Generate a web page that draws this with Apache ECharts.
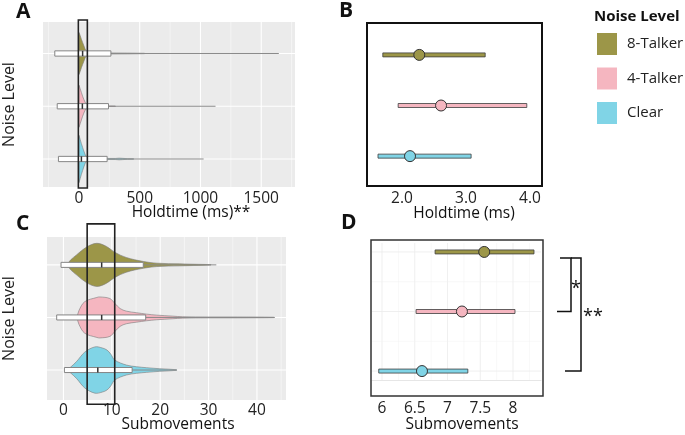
<!DOCTYPE html>
<html><head><meta charset="utf-8">
<script src="https://cdn.jsdelivr.net/npm/echarts@6/dist/echarts.min.js"></script>
<style>html,body{margin:0;padding:0;background:#fff}#c{width:685px;height:435px}</style>
</head><body><div id="c"></div>
<script>
// ---------- DATA ----------
const categories = ['Clear', '4-Talker', '8-Talker'];   // y positions 1, 2, 3
const legendOrder = ['8-Talker', '4-Talker', 'Clear'];

// Panel A: Holdtime (ms) violins (value, half-width in category units)
const holdViolinClearV = [0, 10, 20, 30, 40, 50, 60, 70, 150, 300, 330, 360, 400, 450];
const holdViolinClearW = [0.45, 0.37, 0.29, 0.22, 0.15, 0.09, 0.04, 0.015, 0.01, 0.01, 0.016, 0.012, 0.006, 0.004];
const holdViolin4V = [0, 10, 20, 30, 40, 50, 60, 70, 150, 300];
const holdViolin4W = [0.40, 0.33, 0.26, 0.19, 0.13, 0.08, 0.035, 0.012, 0.008, 0.004];
const holdViolin8V = [0, 10, 20, 30, 40, 50, 60, 70, 120, 250, 400, 540];
const holdViolin8W = [0.40, 0.34, 0.27, 0.21, 0.15, 0.09, 0.04, 0.015, 0.012, 0.01, 0.008, 0.004];
// Panel A boxplots (Clear, 4-Talker, 8-Talker)
const holdQ1 = [-169, -179, -199];
const holdMedian = [20, 28, 30];
const holdQ3 = [232, 243, 263];
const holdWhiskerHi = [1026, 1124, 1645];
const holdFocus = [-5, 69];
const holdTicks = [0, 500, 1000, 1500];
const holdGridMajor = [0, 500, 1000, 1500];
const holdGridMinor = [-250, 250, 750, 1250, 1750];

// Panel C: Submovements violins
const subViolinClearV = [0.7, 1.5, 2.7, 4.4, 6.5, 8.0, 9.0, 9.8, 10.6, 13, 15.1, 17.2, 19.9, 23.4];
const subViolinClearW = [0, 0.057, 0.16, 0.34, 0.44, 0.42, 0.38, 0.30, 0.19, 0.095, 0.063, 0.044, 0.025, 0.006];
const subViolin4V = [2.8, 3.2, 4.4, 6.9, 7.5, 9.6, 10.6, 11.7, 13, 15.1, 17.2, 19.3, 22.6, 24.6, 30, 36, 43.5];
const subViolin4W = [0, 0.13, 0.30, 0.38, 0.39, 0.36, 0.27, 0.17, 0.12, 0.09, 0.063, 0.044, 0.025, 0.013, 0.008, 0.008, 0.003];
const subViolin8V = [0.7, 1.5, 2.7, 4.8, 6.9, 8.9, 10.6, 13, 16.5, 19.3, 24, 28, 30.5];
const subViolin8W = [0, 0.095, 0.19, 0.34, 0.41, 0.35, 0.24, 0.14, 0.065, 0.032, 0.019, 0.01, 0.004];
const subQ1 = [0.2, -1.4, -0.5];
const subMedian = [7.1, 7.9, 7.9];
const subQ3 = [14.2, 17.0, 16.5];
const subWhiskerHi = [23.4, 43.7, 31.6];
const subFocus = [4.9, 10.6];
const subTicks = [0, 10, 20, 30, 40];
const subGridMajor = [0, 10, 20, 30, 40];
const subGridMinor = [5, 15, 25, 35, 45];

// Panel B: Holdtime estimates (low, estimate, high)
const holdEstLow = [1.625, 1.94, 1.70];
const holdEstMid = [2.125, 2.61, 2.27];
const holdEstHigh = [3.08, 3.95, 3.30];
const holdEstTicks = [2, 3, 4];

// Panel D: Submovement estimates
const subEstLow = [5.95, 6.52, 6.81];
const subEstMid = [6.61, 7.22, 7.56];
const subEstHigh = [7.31, 8.03, 8.32];
const subEstTicks = [6, 6.5, 7, 7.5, 8];
const subEstGridMajorX = [6, 6.5, 7, 7.5, 8];
const subEstGridMinorX = [6.25, 6.75, 7.25, 7.75, 8.25];
const subEstGridMajorY = [1, 2, 3];
const subEstGridMinorY = [1.5, 2.5];

// ---------- STYLE ----------
const FONT = '"Open Sans", "Noto Sans", sans-serif';
const colorOf = {'8-Talker': '#9c9648', '4-Talker': '#f5b6c0', 'Clear': '#80d4e6'};
const TXT = '#222';

const chart = echarts.init(document.getElementById('c'));

function gridLines(gi, values, dir, width, color, z) {
  return {
    type: 'custom', xAxisIndex: gi, yAxisIndex: gi, silent: true, z: z || 1,
    data: values.map(v => [v, v]),
    renderItem(params, api) {
      const cs = params.coordSys;
      const v = api.value(0);
      if (dir === 'x') {
        const x = api.coord([v, 2])[0];
        return {type: 'line', shape: {x1: x, y1: cs.y, x2: x, y2: cs.y + cs.height}, style: {stroke: color, lineWidth: width}};
      }
      const y = api.coord([0, v])[1];
      return {type: 'line', shape: {x1: cs.x, y1: y, x2: cs.x + cs.width, y2: y}, style: {stroke: color, lineWidth: width}};
    }
  };
}

function violins(gi, profiles, smooth) {
  return {
    type: 'custom', xAxisIndex: gi, yAxisIndex: gi, silent: true, z: 2,
    data: profiles.map(p => [p.v[0], p.y]),
    renderItem(params, api) {
      const p = profiles[params.dataIndex];
      const top = p.v.map((v, k) => api.coord([v, p.y + p.w[k]]));
      const bot = p.v.map((v, k) => api.coord([v, p.y - p.w[k]])).reverse();
      return {type: 'polygon', shape: {points: top.concat(bot), smooth: smooth},
        style: {fill: p.color, stroke: '#7a7a7a', lineWidth: 0.6}};
    }
  };
}

function boxes(gi, q1, med, q3, hi, half) {
  return {
    type: 'custom', xAxisIndex: gi, yAxisIndex: gi, silent: true, z: 3,
    data: categories.map((c, i) => [q1[i], i + 1, med[i], q3[i], hi[i]]),
    renderItem(params, api) {
      const y = api.value(1);
      const a = api.coord([api.value(0), y + half]);
      const b = api.coord([api.value(3), y - half]);
      const m1 = api.coord([api.value(2), y + half]);
      const m2 = api.coord([api.value(2), y - half]);
      const w1 = api.coord([api.value(3), y]);
      const w2 = api.coord([api.value(4), y]);
      return {type: 'group', children: [
        {type: 'line', shape: {x1: w1[0], y1: w1[1], x2: w2[0], y2: w2[1]}, style: {stroke: '#8a8a8a', lineWidth: 1}},
        {type: 'rect', shape: {x: a[0], y: a[1], width: b[0] - a[0], height: b[1] - a[1]}, style: {fill: '#fff', stroke: '#858585', lineWidth: 1}},
        {type: 'line', shape: {x1: m1[0], y1: m1[1], x2: m2[0], y2: m2[1]}, style: {stroke: '#333', lineWidth: 1.5}}
      ]};
    }
  };
}

function focusRect(gi, range, yLo, yHi) {
  return {
    type: 'custom', xAxisIndex: gi, yAxisIndex: gi, silent: true, z: 5, clip: false,
    data: [[range[0], range[1]]],
    renderItem(params, api) {
      const a = api.coord([api.value(0), yHi]);
      const b = api.coord([api.value(1), yLo]);
      return {type: 'rect', shape: {x: a[0], y: a[1], width: b[0] - a[0], height: b[1] - a[1]},
        style: {fill: 'none', stroke: '#222', lineWidth: 1.6}};
    }
  };
}

function estimate(gi, i, lo, mid, hi) {
  const name = categories[i];
  return {
    type: 'custom', name: name, xAxisIndex: gi, yAxisIndex: gi, silent: true, z: 4,
    itemStyle: {color: colorOf[name]},
    data: [[mid[i], i + 1, lo[i], hi[i]]],
    renderItem(params, api) {
      const y = api.value(1);
      const p = api.coord([api.value(0), y]);
      const l = api.coord([api.value(2), y]);
      const h = api.coord([api.value(3), y]);
      return {type: 'group', children: [
        {type: 'rect', shape: {x: l[0], y: l[1] - 2, width: h[0] - l[0], height: 4},
          style: {fill: colorOf[name], stroke: '#3d3d3d', lineWidth: 0.8}},
        {type: 'circle', shape: {cx: p[0], cy: p[1], r: 5.5},
          style: {fill: colorOf[name], stroke: '#333', lineWidth: 1}}
      ]};
    }
  };
}

function prof(v, w, i) { return {v: v, w: w, y: i + 1, color: colorOf[categories[i]]}; }

const axisLabelBase = {fontFamily: FONT, fontSize: 15.5, color: TXT, formatter: v => String(v)};

const option = {
  animation: false,
  title: {text: 'Noise Level', left: 589, top: 4,
    textStyle: {fontFamily: FONT, fontSize: 15, fontWeight: 'bold', color: '#111'}},
  legend: {
    orient: 'vertical', left: 592, top: 28, itemWidth: 20, itemHeight: 22, itemGap: 12.5,
    selectedMode: false, icon: 'rect',
    data: legendOrder,
    textStyle: {fontFamily: FONT, fontSize: 15, color: TXT, padding: [0, 0, 0, 5]}
  },
  grid: [
    {left: 43, top: 22, width: 252, height: 165, show: true, backgroundColor: '#ebebeb', borderWidth: 0},
    {left: 47, top: 237, width: 239, height: 163, show: true, backgroundColor: '#ebebeb', borderWidth: 0},
    {left: 367, top: 23, width: 175, height: 163, show: true, backgroundColor: '#fff', borderColor: '#111', borderWidth: 2},
    {left: 372, top: 243, width: 169, height: 137, show: false}
  ],
  xAxis: [
    {gridIndex: 0, type: 'value', min: -296, max: 1778, splitLine: {show: false}, axisLine: {show: false}, axisTick: {show: false},
      axisLabel: Object.assign({}, axisLabelBase, {customValues: holdTicks, margin: 4})},
    {gridIndex: 1, type: 'value', min: -3.4, max: 46, splitLine: {show: false}, axisLine: {show: false}, axisTick: {show: false},
      axisLabel: Object.assign({}, axisLabelBase, {customValues: subTicks, margin: 3})},
    {gridIndex: 2, type: 'value', min: 1.453, max: 4.1875, splitLine: {show: false}, axisLine: {show: false}, axisTick: {show: false},
      axisLabel: Object.assign({}, axisLabelBase, {customValues: holdEstTicks, margin: 5, formatter: v => v.toFixed(1)})},
    {gridIndex: 3, type: 'value', min: 5.847, max: 8.427, splitLine: {show: false},
      axisLine: {show: true, lineStyle: {color: '#e6e6e6', width: 1}}, axisTick: {show: false},
      axisLabel: Object.assign({}, axisLabelBase, {customValues: subEstTicks, margin: 21})}
  ],
  yAxis: [
    {gridIndex: 0, type: 'value', min: 0.469, max: 3.597, splitLine: {show: false}, axisLine: {show: false}, axisTick: {show: false}, axisLabel: {show: false},
      name: 'Noise Level', nameLocation: 'middle', nameGap: 26, nameTextStyle: {fontFamily: FONT, fontSize: 16, color: TXT}},
    {gridIndex: 1, type: 'value', min: 0.43, max: 3.53, splitLine: {show: false}, axisLine: {show: false}, axisTick: {show: false}, axisLabel: {show: false},
      name: 'Noise Level', nameLocation: 'middle', nameGap: 30, nameTextStyle: {fontFamily: FONT, fontSize: 16, color: TXT}},
    {gridIndex: 2, type: 'value', min: 0.41, max: 3.63, splitLine: {show: false}, axisLine: {show: false}, axisTick: {show: false}, axisLabel: {show: false}},
    {gridIndex: 3, type: 'value', min: 0.85, max: 3.15, splitLine: {show: false}, axisLine: {show: false}, axisTick: {show: false}, axisLabel: {show: false}}
  ],
  series: [
    // Panel A
    gridLines(0, holdGridMinor, 'x', 0.6, '#fafafa'),
    gridLines(0, holdGridMajor, 'x', 1.1, '#ffffff'),
    gridLines(0, [1, 2, 3], 'y', 1.1, '#ffffff'),
    violins(0, [prof(holdViolinClearV, holdViolinClearW, 0), prof(holdViolin4V, holdViolin4W, 1), prof(holdViolin8V, holdViolin8W, 2)], 0),
    boxes(0, holdQ1, holdMedian, holdQ3, holdWhiskerHi, 0.05),
    focusRect(0, holdFocus, 0.45, 3.635),
    // Panel C
    gridLines(1, subGridMinor, 'x', 0.6, '#fafafa'),
    gridLines(1, subGridMajor, 'x', 1.1, '#ffffff'),
    gridLines(1, [1, 2, 3], 'y', 1.1, '#ffffff'),
    violins(1, [prof(subViolinClearV, subViolinClearW, 0), prof(subViolin4V, subViolin4W, 1), prof(subViolin8V, subViolin8W, 2)], 0.35),
    boxes(1, subQ1, subMedian, subQ3, subWhiskerHi, 0.048),
    focusRect(1, subFocus, 0.35, 3.78),
    // Panel B
    estimate(2, 0, holdEstLow, holdEstMid, holdEstHigh),
    estimate(2, 1, holdEstLow, holdEstMid, holdEstHigh),
    estimate(2, 2, holdEstLow, holdEstMid, holdEstHigh),
    // Panel D
    gridLines(3, subEstGridMinorX, 'x', 0.5, '#f0f0f0'),
    gridLines(3, subEstGridMajorX, 'x', 0.8, '#ebebeb'),
    gridLines(3, subEstGridMinorY, 'y', 0.5, '#f0f0f0'),
    gridLines(3, subEstGridMajorY, 'y', 0.8, '#ebebeb'),
    estimate(3, 0, subEstLow, subEstMid, subEstHigh),
    estimate(3, 1, subEstLow, subEstMid, subEstHigh),
    estimate(3, 2, subEstLow, subEstMid, subEstHigh)
  ]
};

function txt(id, text, x, y, size, weight, align) {
  return {type: 'text', id: id, x: x, y: y, silent: true, z: 10,
    style: {text: text, fill: '#111', font: (weight || 'normal') + ' ' + size + 'px ' + FONT,
      align: align || 'center', verticalAlign: 'middle', textAlign: align || 'center', textVerticalAlign: 'middle'}};
}

option.graphic = [
  txt('la', 'A', 16, 12, 21, 'bold', 'left'),
  txt('lb', 'B', 339, 11, 21, 'bold', 'left'),
  txt('lc', 'C', 16, 224, 21, 'bold', 'left'),
  txt('ld', 'D', 341, 223, 21, 'bold', 'left'),
  txt('ta', 'Holdtime (ms)**', 191, 213, 15.5),
  txt('tb', 'Holdtime (ms)', 464, 214, 15.5),
  txt('tc', 'Submovements', 178, 425, 15.5),
  txt('td', 'Submovements', 462, 425, 15.5),
  {type: 'rect', id: 'dframe', silent: true, z: 6, shape: {x: 371, y: 240, width: 172, height: 156},
    style: {fill: 'none', stroke: '#333', lineWidth: 1.5}}
];

chart.setOption(option);

// significance brackets next to panel D, anchored on its category positions
const pTop = chart.convertToPixel({gridIndex: 3}, [8, 2.9])[1];
const p4 = chart.convertToPixel({gridIndex: 3}, [8, 2])[1];
const p1 = chart.convertToPixel({gridIndex: 3}, [8, 1])[1];
const ln = {stroke: '#111', lineWidth: 1.5, fill: 'none'};
chart.setOption({graphic: [
  {type: 'polyline', id: 'br1', silent: true, shape: {points: [[560, pTop], [571, pTop], [571, p4], [557, p4]]}, style: ln},
  {type: 'polyline', id: 'br2', silent: true, shape: {points: [[571, pTop], [581, pTop], [581, p1], [565, p1]]}, style: ln},
  txt('s1', '*', 576, (pTop + p4) / 2 + 4, 18),
  txt('s2', '**', 593, p4 + 5, 18)
]});
</script></body></html>
